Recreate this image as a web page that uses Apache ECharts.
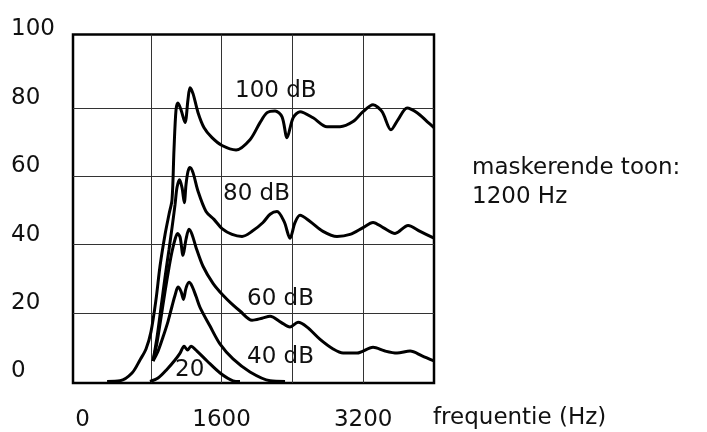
<!DOCTYPE html>
<html>
<head>
<meta charset="utf-8">
<script src="https://cdn.jsdelivr.net/npm/echarts@6/dist/echarts.min.js"></script>
<style>
  html, body { margin: 0; padding: 0; background: #fff; }
  #chart { width: 707px; height: 432px; }
</style>
</head>
<body>
<div id="chart"></div>
<script>
// Masking curves: threshold shift (dB) versus frequency (Hz) for a 1200 Hz masker
const freq100 = [306, 452, 588, 678, 746, 802, 859, 904, 961, 1006, 1040, 1062, 1085, 1107, 1142, 1187, 1220, 1243, 1278, 1334, 1402, 1492, 1605, 1763, 1921, 2034, 2114, 2204, 2283, 2339, 2408, 2486, 2634, 2791, 2938, 3085, 3198, 3311, 3413, 3514, 3594, 3696, 3809, 3922, 4000];
const level100 = [0, 0.2, 2.5, 6.3, 9.5, 14.5, 24.0, 33.7, 43.0, 48.9, 53.2, 67.7, 79.4, 81.4, 79.4, 75.7, 82.4, 85.9, 84.1, 78.6, 74.2, 71.3, 69.0, 67.7, 70.7, 75.7, 78.6, 79.1, 77.4, 71.3, 77.1, 78.9, 77.1, 74.5, 74.5, 76.0, 78.9, 80.9, 78.9, 73.6, 76.6, 80.0, 78.6, 76.0, 74.2];

const freq80 = [825, 871, 916, 961, 1006, 1040, 1074, 1096, 1125, 1153, 1179, 1198, 1220, 1243, 1278, 1334, 1424, 1514, 1605, 1718, 1831, 1944, 2068, 2148, 2226, 2306, 2373, 2430, 2486, 2600, 2746, 2904, 3051, 3198, 3311, 3425, 3560, 3707, 3843, 4000];
const level80 = [6.0, 13.0, 21.7, 30.5, 38.6, 45.0, 51.7, 56.7, 59.0, 56.7, 52.3, 57.6, 61.4, 62.6, 61.0, 55.6, 49.7, 47.4, 44.7, 43.0, 42.4, 43.9, 46.5, 48.9, 49.7, 46.8, 41.9, 46.5, 48.6, 46.8, 43.9, 42.4, 43.0, 45.0, 46.5, 45.0, 43.3, 45.6, 43.9, 41.9];

const freq60 = [825, 871, 916, 961, 1006, 1040, 1074, 1102, 1131, 1164, 1198, 1232, 1266, 1311, 1390, 1503, 1616, 1718, 1808, 1944, 2057, 2148, 2272, 2373, 2464, 2566, 2713, 2860, 2973, 3131, 3311, 3447, 3583, 3730, 3865, 4000];
const level60 = [6.0, 11.5, 18.8, 26.3, 33.3, 38.0, 41.6, 43.3, 42.2, 36.9, 41.6, 44.5, 43.0, 39.2, 33.7, 28.7, 25.2, 22.6, 20.6, 17.9, 18.5, 19.1, 17.3, 15.9, 17.3, 15.9, 12.3, 9.5, 8.3, 8.3, 10.0, 8.9, 8.3, 8.9, 7.5, 6.0];

const freq40 = [825, 882, 938, 995, 1040, 1074, 1107, 1142, 1169, 1198, 1232, 1266, 1311, 1356, 1469, 1583, 1729, 1921, 2148, 2317];
const level40 = [6.0, 8.9, 13.0, 17.6, 22.0, 25.2, 27.6, 26.3, 24.0, 27.3, 29.0, 27.9, 24.9, 21.7, 16.2, 10.9, 6.6, 2.8, 0.2, 0];

const freq20 = [791, 882, 984, 1074, 1131, 1176, 1215, 1254, 1322, 1436, 1583, 1729, 1808];
const level20 = [0, 1.0, 3.6, 6.3, 8.3, 10.3, 9.2, 10.3, 8.9, 6.0, 2.5, 0.2, 0];

// axis ticks: labelled values and grid-line values
const xTickLabels = [0, 1600, 3200];
const xGridValues = [800, 1600, 2400, 3200];
const yTickLabels = [0, 20, 40, 60, 80, 100];
const yGridValues = [20, 40, 60, 80];
const curveNames = ['100 dB', '80 dB', '60 dB', '40 dB', '20'];

const FONT = '"DejaVu Sans", sans-serif';

function pairs(xs, ys) {
  return xs.map((x, i) => [x, ys[i]]);
}

const curves = [
  pairs(freq100, level100),
  pairs(freq80, level80),
  pairs(freq60, level60),
  pairs(freq40, level40),
  pairs(freq20, level20)
];

const chart = echarts.init(document.getElementById('chart'), null, { renderer: 'canvas' });

const textStyle = { fontFamily: FONT, fontSize: 23, fill: '#111' };
const gridLine = { color: '#333', width: 1 };

chart.setOption({
  backgroundColor: '#fff',
  animation: false,
  // the frame runs a little past 0 Hz on the left and past 100 dB on top
  grid: {
    left: 73, right: 273, top: 34.5, bottom: 48,
    show: true, borderColor: '#000', borderWidth: 2.5, backgroundColor: 'transparent'
  },
  xAxis: {
    type: 'value', min: -79, max: 4000,
    axisLine: { show: false },
    axisTick: { show: false, customValues: xGridValues },
    splitLine: { show: true, lineStyle: gridLine },
    axisLabel: {
      customValues: xTickLabels,
      margin: 26, fontFamily: FONT, fontSize: 23, color: '#111',
      formatter: function (v) { return v === 0 ? '{z|0}' : String(v); },
      rich: { z: { fontFamily: FONT, fontSize: 23, color: '#111', padding: [0, 0, 0, 5] } }
    }
  },
  yAxis: {
    type: 'value', min: -0.44, max: 101.46,
    axisLine: { show: false },
    axisTick: { show: false, customValues: yGridValues },
    splitLine: { show: true, lineStyle: gridLine },
    axisLabel: {
      customValues: yTickLabels,
      margin: 62, align: 'left', verticalAlign: 'bottom', lineHeight: 20,
      fontFamily: FONT, fontSize: 23, color: '#111',
      formatter: function (v) { return String(v); }
    }
  },
  series: curves.map((d, i) => ({
    name: curveNames[i],
    type: 'line',
    data: d,
    showSymbol: false,
    smooth: 0.3,
    lineStyle: { color: '#000', width: 3 },
    z: 5
  })),
  graphic: [
    { type: 'text', left: 235, top: 80, style: Object.assign({ text: '100 dB' }, textStyle), z: 10 },
    { type: 'text', left: 223, top: 183, style: Object.assign({ text: '80 dB' }, textStyle), z: 10 },
    { type: 'text', left: 247, top: 288, style: Object.assign({ text: '60 dB' }, textStyle), z: 10 },
    { type: 'text', left: 247, top: 346, style: Object.assign({ text: '40 dB' }, textStyle), z: 10 },
    { type: 'text', left: 175, top: 359, style: Object.assign({ text: '20' }, textStyle), z: 10 },
    { type: 'text', left: 472, top: 157, style: Object.assign({ text: 'maskerende toon:' }, textStyle) },
    { type: 'text', left: 472, top: 186, style: Object.assign({ text: '1200 Hz' }, textStyle) },
    { type: 'text', left: 433, top: 407, style: Object.assign({ text: 'frequentie (Hz)' }, textStyle) }
  ]
});
</script>
</body>
</html>
